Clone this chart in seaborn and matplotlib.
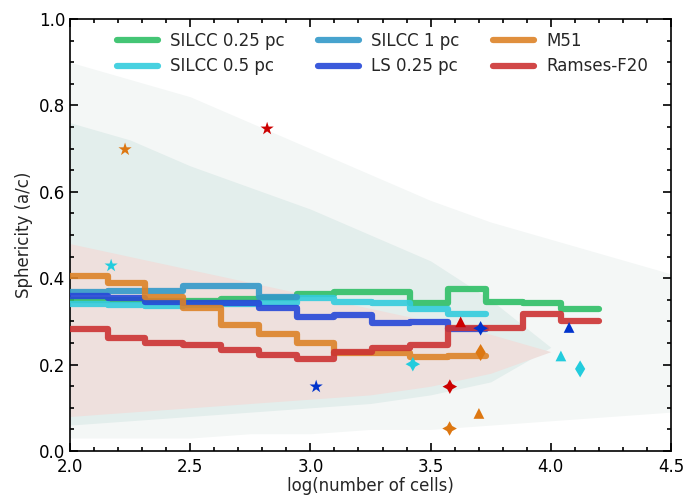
import numpy as np
import pandas as pd
import matplotlib
matplotlib.use("Agg")
import matplotlib.pyplot as plt
import seaborn as sns
from matplotlib.ticker import MultipleLocator

# ---------------- data ----------------
bin_edges = [2.0, 2.157, 2.314, 2.471, 2.629, 2.786, 2.943, 3.1,
             3.257, 3.414, 3.571, 3.729, 3.886, 4.043, 4.2]

silcc_025 = [0.350, 0.350, 0.347, 0.348, 0.351, 0.355, 0.364, 0.367,
             0.369, 0.343, 0.374, 0.346, 0.343, 0.328]
silcc_05 = [0.341, 0.337, 0.336, 0.338, 0.341, 0.342, 0.354, 0.346,
            0.343, 0.328, 0.316]
silcc_1 = [0.368, 0.371, 0.371, 0.381, 0.383, 0.357]
ls_025 = [0.358, 0.355, 0.345, 0.342, 0.342, 0.330, 0.311, 0.315,
          0.296, 0.299, 0.282]
m51 = [0.404, 0.390, 0.357, 0.330, 0.292, 0.271, 0.249, 0.228,
       0.228, 0.218, 0.221]
ramses = [0.282, 0.261, 0.249, 0.245, 0.234, 0.222, 0.212, 0.230,
          0.238, 0.246, 0.284, 0.284, 0.317, 0.301]

series_names = ["SILCC 0.25 pc", "SILCC 0.5 pc", "SILCC 1 pc",
                "LS 0.25 pc", "M51", "Ramses-F20"]
series_values = [silcc_025, silcc_05, silcc_1, ls_025, m51, ramses]
series_colors = ["#2fbf66", "#33ccdd", "#3399c9", "#2648d8", "#dd8328", "#cc3333"]

# individual marked objects: (x, y)
star_x = [2.229, 2.820, 2.171, 3.024]
star_y = [0.698, 0.746, 0.429, 0.149]
star_c = ["#dd7711", "#cc0000", "#22ccdd", "#0033cc"]

tri_x = [3.625, 4.076, 4.042, 3.701]
tri_y = [0.299, 0.286, 0.220, 0.087]
tri_c = ["#cc0000", "#0033cc", "#22ccdd", "#dd7711"]

fstar_x = [3.708, 3.426, 3.580, 3.579]
fstar_y = [0.284, 0.201, 0.149, 0.052]
fstar_c = ["#0033cc", "#22ccdd", "#cc0000", "#dd7711"]

dia_x = [3.708, 4.122]
dia_y = [0.228, 0.190]
dia_c = ["#dd7711", "#22ccdd"]

# background point cloud, approximated by envelopes
sparse_x = [2.0, 2.25, 2.5, 2.75, 3.0, 3.25, 3.5, 3.75, 4.0, 4.25, 4.5]
sparse_hi = [0.90, 0.86, 0.82, 0.76, 0.70, 0.64, 0.58, 0.53, 0.49, 0.45, 0.41]
sparse_lo = [0.03, 0.03, 0.03, 0.04, 0.04, 0.05, 0.05, 0.06, 0.07, 0.08, 0.09]
dense_x = [2.0, 2.25, 2.5, 2.75, 3.0, 3.25, 3.5, 3.75, 4.0]
dense_hi = [0.76, 0.72, 0.66, 0.61, 0.56, 0.50, 0.44, 0.35, 0.24]
dense_lo = [0.06, 0.07, 0.08, 0.09, 0.10, 0.11, 0.13, 0.16, 0.24]
core_hi = [0.48, 0.45, 0.42, 0.39, 0.36, 0.33, 0.30, 0.27, 0.23]
core_lo = [0.08, 0.09, 0.10, 0.11, 0.12, 0.13, 0.15, 0.18, 0.23]

# ---------------- build long table ----------------
rows = []
for name, vals in zip(series_names, series_values):
    edges = bin_edges[:len(vals) + 1]
    ext = list(vals) + [vals[-1]]
    for e, v in zip(edges, ext):
        rows.append({"x": e, "y": v, "series": name})
df = pd.DataFrame(rows)

# ---------------- plot ----------------
sns.set_style("ticks")
plt.rcParams["font.family"] = ["DejaVu Sans"]

fig = plt.figure(figsize=(6.96, 4.96), dpi=100)
ax = fig.add_axes([70 / 696, 1 - 451 / 496, 601 / 696, 432 / 496])

ax.fill_between(sparse_x, sparse_lo, sparse_hi, color="#f4f7f6", lw=0, zorder=0)
ax.fill_between(dense_x, dense_lo, dense_hi, color="#e3eeec", lw=0, zorder=0)
ax.fill_between(dense_x, core_lo, core_hi, color="#eee0dd", lw=0, zorder=0)

sns.lineplot(data=df, x="x", y="y", hue="series", hue_order=series_names,
             palette=dict(zip(series_names, series_colors)),
             drawstyle="steps-post", lw=4.5, alpha=0.9, sort=False,
             estimator=None, legend=False, ax=ax, zorder=3)

ax.scatter(star_x, star_y, marker="*", s=100, c=star_c, zorder=5, lw=0)
ax.scatter(tri_x, tri_y, marker="^", s=60, c=tri_c, zorder=5, lw=0)
ax.scatter(fstar_x, fstar_y, marker=(4, 1, 0), s=110, c=fstar_c, zorder=5, lw=0)
ax.scatter(dia_x, dia_y, marker="d", s=75, c=dia_c, zorder=5, lw=0)

handles = [plt.Line2D([], [], color=c, lw=4.5, alpha=0.9) for c in series_colors]
ax.legend(handles, series_names, ncol=3, loc="upper center",
          bbox_to_anchor=(0.52, 1.005), frameon=False, fontsize=12,
          handlelength=2.45, columnspacing=2.0, handletextpad=0.75,
          labelspacing=0.45)

ax.set_xlim(2.0, 4.5)
ax.set_ylim(0.0, 1.0)
ax.xaxis.set_major_locator(MultipleLocator(0.5))
ax.xaxis.set_minor_locator(MultipleLocator(0.1))
ax.yaxis.set_major_locator(MultipleLocator(0.2))
ax.yaxis.set_minor_locator(MultipleLocator(0.05))
ax.tick_params(which="both", direction="in", top=True, right=True,
               labelsize=12, width=1.2, colors="black")
ax.tick_params(which="major", length=6)
ax.tick_params(which="minor", length=3)
ax.tick_params(axis="x", which="major", pad=5)
for s in ax.spines.values():
    s.set_linewidth(1.2)
    s.set_color("black")
ax.set_xlabel("log(number of cells)", fontsize=12, labelpad=1)
ax.set_ylabel("Sphericity (a/c)", fontsize=12)

fig.savefig("out.png", dpi=100)
